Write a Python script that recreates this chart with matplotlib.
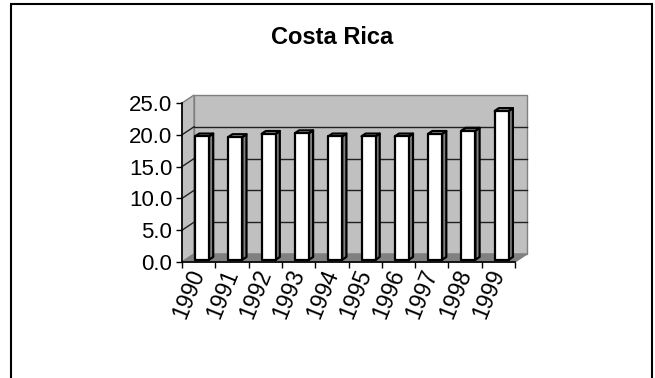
import numpy as np
import matplotlib
matplotlib.use('Agg')
import matplotlib.pyplot as plt
from matplotlib.patches import Polygon, Rectangle

years = ['1990', '1991', '1992', '1993', '1994', '1995', '1996', '1997', '1998', '1999']
values = [19.4, 19.3, 19.8, 19.9, 19.4, 19.4, 19.4, 19.8, 20.3, 23.4]
y_ticks = [0, 5, 10, 15, 20, 25]

plt.rcParams['font.family'] = ['Liberation Sans', 'DejaVu Sans']

W, H = 655, 378
fig = plt.figure(figsize=(W / 100, H / 100), dpi=100)

# front plane of the 3-D box, in pixels
x0_px, x1_px = 182, 515
y0_px, y1_px = 262, 103
ax = fig.add_axes([x0_px / W, 1 - y0_px / H, (x1_px - x0_px) / W, (y0_px - y1_px) / H])
n = len(years)
ymax = 25
ax.set_xlim(0, n)
ax.set_ylim(0, ymax)
ax.patch.set_visible(False)

# depth offsets in data units
px_x = (x1_px - x0_px) / n
px_y = (y0_px - y1_px) / ymax
DX = 12 / px_x
DY = 8 / px_y

wall = '#c0c0c0'
floor = '#808080'
edge = '#808080'

# back wall, side wall and floor
ax.add_patch(Polygon([(DX, DY), (n + DX, DY), (n + DX, ymax + DY), (DX, ymax + DY)],
                     closed=True, fc=wall, ec=edge, lw=1, clip_on=False, zorder=0))
ax.add_patch(Polygon([(0, 0), (DX, DY), (DX, ymax + DY), (0, ymax)],
                     closed=True, fc=wall, ec=edge, lw=1, clip_on=False, zorder=0))
ax.add_patch(Polygon([(0, 0), (n, 0), (n + DX, DY), (DX, DY)],
                     closed=True, fc=floor, ec=edge, lw=1, clip_on=False, zorder=0.5))

# gridlines on the walls
for v in y_ticks[1:-1]:
    ax.plot([DX, n + DX], [v + DY, v + DY], color='#202020', lw=1, clip_on=False, zorder=0.3)
    ax.plot([0, DX], [v, v + DY], color='#202020', lw=1, clip_on=False, zorder=0.3)

# columns
w = 0.42
f = 0.28
d = 0.35
for i, v in enumerate(values):
    bx = i + (1 - w) / 2 + f * DX
    by = f * DY
    ox, oy = d * DX, d * DY
    ax.add_patch(Polygon([(bx + w, by), (bx + w + ox, by + oy), (bx + w + ox, by + v + oy), (bx + w, by + v)],
                         closed=True, fc='#808080', ec='black', lw=1.6, clip_on=False, zorder=2,
                         joinstyle='round'))
    ax.add_patch(Polygon([(bx, by + v), (bx + w, by + v), (bx + w + ox, by + v + oy), (bx + ox, by + v + oy)],
                         closed=True, fc='#d0d0d0', ec='black', lw=1.6, clip_on=False, zorder=2,
                         joinstyle='round'))
    ax.add_patch(Rectangle((bx, by), w, v, fc='white', ec='black', lw=1.6, clip_on=False, zorder=3,
                           joinstyle='round'))

# axes lines and ticks
for s in ['top', 'right']:
    ax.spines[s].set_visible(False)
ax.spines['left'].set_linewidth(1.2)
ax.spines['bottom'].set_linewidth(1.2)
ax.spines['left'].set_zorder(4)
ax.spines['bottom'].set_zorder(4)

ax.set_yticks(y_ticks, labels=['%.1f' % t for t in y_ticks])
ax.tick_params(axis='y', direction='out', length=4, width=1, pad=3, labelsize=16)
ax.set_xticks(np.arange(n + 1), labels=[''] * (n + 1))
ax.tick_params(axis='x', which='major', direction='out', length=4, width=1)
ax.set_xticks(np.arange(n) + 0.5, labels=years, minor=True)
ax.tick_params(axis='x', which='minor', length=0, pad=6, labelsize=16.5)
plt.setp(ax.get_xticklabels(minor=True), rotation=68, ha='right', va='center',
         rotation_mode='anchor')

fig.text(332 / W, 1 - 38 / H, 'Costa Rica', ha='center', va='center',
         fontsize=17, fontweight='bold')

# chart border
fig.add_artist(Rectangle((11 / W, -0.05), (652 - 11) / W, 1.05 - 4 / H,
                         transform=fig.transFigure, fill=False, ec='black', lw=1.5))

fig.savefig('out.png', dpi=100)
